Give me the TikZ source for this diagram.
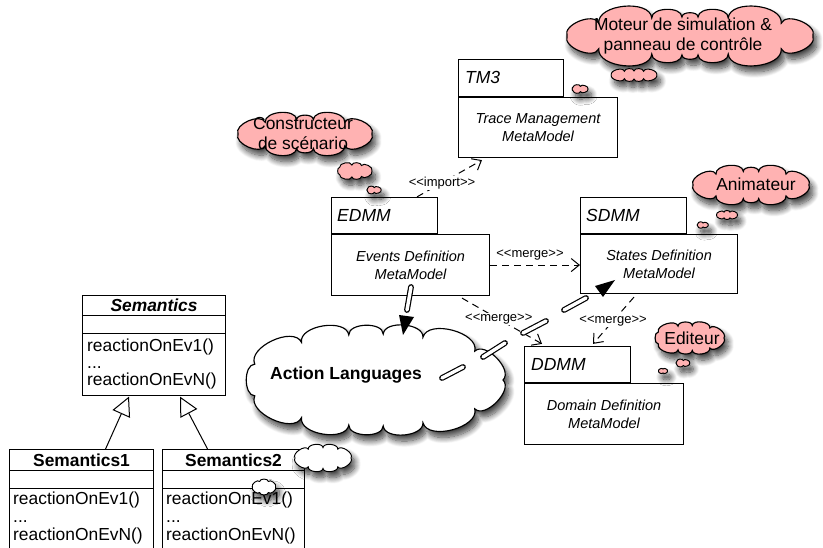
\documentclass[tikz,border=0pt]{standalone}
\usepackage{fontspec}
\setmainfont{Liberation Sans}
\usetikzlibrary{arrows.meta,shadows.blur,calc}
\definecolor{pinkc}{RGB}{255,178,178}
\newcommand{\fsz}[2]{\fontsize{#1pt}{#2pt}\selectfont}
\newcommand{\stt}[1]{<\kern0pt<#1>\kern0pt>}
\tikzset{
  box/.style={draw, line width=1.1pt, fill=white, inner sep=0pt, anchor=north west},
  tabtxt/.style={font=\fsz{17.5}{20}\itshape, anchor=west, inner sep=0pt},
  bodytxt/.style={font=\fsz{14.5}{18}\itshape, align=center, inner sep=0pt},
  cloudline/.style={draw, line width=1.15pt, line join=miter,
     blur shadow={shadow xshift=3.5pt, shadow yshift=-6pt, shadow blur radius=6pt, shadow blur steps=12, shadow opacity=75}},
  smallcloud/.style={line width=0.95pt},
  cloudtxt/.style={font=\fsz{17.4}{20}, align=center, inner sep=0pt},
  dep/.style={line width=1pt, dash pattern=on 7pt off 5pt, -{Straight Barb[length=8pt,width=13pt]}},
  stereo/.style={font=\fsz{13}{15}, fill=white, inner sep=1pt},
  dbl/.style={double=white, double distance=3.4pt, line width=1.2pt, line cap=round},
  gen/.style={line width=1pt, -{Triangle[open, fill=white, length=19pt, width=19pt]}},
  optxt/.style={font=\fsz{17.4}{20}, anchor=base west, inner sep=0pt},
  clstitle/.style={font=\fsz{17.4}{20}\bfseries, inner sep=0pt},
}
% cloud outline: [style]{cx}{cy}{a}{b}{puffs}{fill}
\newcommand{\cloudat}[7][]{%
  \pgfmathsetmacro\ck{28.6479*(#4-#5)/(#4+#5)}%
  \path[cloudline, fill=#7, #1] ({#2+#4},#3)
    \foreach \k [evaluate=\k as \ta using {360*(\k-1)/#6+\ck*sin(720*(\k-1)/#6)},
                 evaluate=\k as \tb using {360*\k/#6+\ck*sin(720*\k/#6)}] in {1,...,#6}
    { .. controls ($({#2+#4*cos(\ta)},{#3-#5*sin(\ta)})!0.36!-90:({#2+#4*cos(\tb)},{#3-#5*sin(\tb)})$)
         and ($({#2+#4*cos(\tb)},{#3-#5*sin(\tb)})!0.36!90:({#2+#4*cos(\ta)},{#3-#5*sin(\ta)})$)
         .. ({#2+#4*cos(\tb)},{#3-#5*sin(\tb)}) } -- cycle;%
}
\begin{document}
\begin{tikzpicture}[x=1pt,y=-1pt]
\useasboundingbox (0,0) rectangle (823,548);
% ---------- packages
\node[box, minimum width=159, minimum height=60] (tmB) at (458,97) {};
\node[box, minimum width=105, minimum height=37, anchor=south west] (tmT) at (tmB.north west) {};
\node[tabtxt] (tmL) at ($(tmT.west)+(7,0)$) {TM3};
\node[bodytxt] (tmD) at (tmB.center) {Trace Management\\MetaModel};
\node[box, minimum width=158, minimum height=61] (edB) at (331,234) {};
\node[box, minimum width=106, minimum height=36, anchor=south west] (edT) at (edB.north west) {};
\node[tabtxt] (edL) at ($(edT.west)+(6,0)$) {EDMM};
\node[bodytxt] (edD) at (edB.center) {Events Definition\\MetaModel};
\node[box, minimum width=157, minimum height=59] (sdB) at (580,234) {};
\node[box, minimum width=106, minimum height=36, anchor=south west] (sdT) at (sdB.north west) {};
\node[tabtxt] (sdL) at ($(sdT.west)+(6,0)$) {SDMM};
\node[bodytxt] (sdD) at (sdB.center) {States Definition\\MetaModel};
\node[box, minimum width=159, minimum height=61] (ddB) at (524,383) {};
\node[box, minimum width=106, minimum height=36, anchor=south west] (ddT) at (ddB.north west) {};
\node[tabtxt] (ddL) at ($(ddT.west)+(7,0)$) {DDMM};
\node[bodytxt] (ddD) at (ddB.center) {Domain Definition\\MetaModel};
% ---------- classes
\node[box, minimum width=143, minimum height=20] (semT) at (82,295) {};
\node[box, minimum width=143, minimum height=18] (semA) at (82,315) {};
\node[box, minimum width=143, minimum height=62] (semO) at (82,333) {};
\node[clstitle, font=\fsz{17.4}{20}\bfseries\itshape] (semN) at (semT.center) {Semantics};
\node[optxt] (so1) at (87,352) {reactionOnEv1()};
\node[optxt] (so2) at (87,368.5) {...};
\node[optxt] (so3) at (87,385) {reactionOnEvN()};
\node[box, minimum width=144, minimum height=21] (s1T) at (9,449) {};
\node[box, minimum width=144, minimum height=18] (s1A) at (9,470) {};
\node[box, minimum width=144, minimum height=70] (s1O) at (9,488) {};
\node[clstitle] (s1N) at (s1T.center) {Semantics1};
\node[optxt] (s1o1) at (13,504) {reactionOnEv1()};
\node[optxt] (s1o2) at (13,522) {...};
\node[optxt] (s1o3) at (13,540) {reactionOnEvN()};
\node[box, minimum width=142, minimum height=21] (s2T) at (162,449) {};
\node[box, minimum width=142, minimum height=18] (s2A) at (162,470) {};
\node[box, minimum width=142, minimum height=70] (s2O) at (162,488) {};
\node[clstitle] (s2N) at (s2T.center) {Semantics2};
\node[optxt] (s2o1) at (166,504) {reactionOnEv1()};
\node[optxt] (s2o2) at (166,522) {...};
\node[optxt] (s2o3) at (166,540) {reactionOnEvN()};
\draw[gen] ($(s1T.north)+(24,0)$) -- ($(semO.south west)+(47,0.5)$);
\draw[gen] ($(s2T.north)+(-26,0)$) -- ($(semO.south west)+(98,0.5)$);
% ---------- dependencies
\draw[dep] ($(edT.north west)+(86,0)$) -- ($(tmB.south west)+(24,2)$)
   node[stereo, pos=0.385] (lbl1) {\stt{import}};
\draw[dep] (edB.east) -- (edB.east -| sdB.west);
\node[stereo, fill=none] (lbl2) at (530,255) {\stt{merge}};
\draw[dep] ($(edB.south west)+(131,2)$) -- ($(ddT.north west)+(18,-2)$)
   node[stereo, pos=0.46] (lbl3) {\stt{merge}};
\draw[dep] ($(sdB.south west)+(54,3)$) -- ($(ddT.north west)+(69,-2)$)
   node[stereo, pos=0.51] (lbl4) {\stt{merge}};
% ---------- clouds
\cloudat{305}{134}{67}{14.5}{10}{pinkc}
\node[cloudtxt] (cCt) at (303,134) {Constructeur\\de scénario};
\cloudat[smallcloud]{354}{171}{18}{6}{7}{pinkc}
\cloudat[smallcloud]{373}{190}{8.2}{2.4}{5}{pinkc}
\cloudat{690}{36}{123}{19}{14}{pinkc}
\node[cloudtxt] (cMt) at (683,36) {Moteur de simulation \&\\panneau de contrôle};
\cloudat[smallcloud]{634}{75}{22.8}{4}{8}{pinkc}
\cloudat[smallcloud]{579}{89}{9}{2.7}{5}{pinkc}
\cloudat{751}{185}{58}{13.7}{10}{pinkc}
\node[cloudtxt] (cAt) at (756,184) {Animateur};
\cloudat[smallcloud]{727}{215}{10.5}{3}{6}{pinkc}
\cloudat[smallcloud]{702}{225}{6.3}{2}{5}{pinkc}
\cloudat{689}{338}{35}{12.5}{9}{pinkc}
\node[cloudtxt] (cEt) at (692,338) {Editeur};
\cloudat[smallcloud]{682}{363}{7.8}{2.5}{5}{pinkc}
\cloudat[smallcloud]{663}{371}{4.5}{2}{4}{pinkc}
\cloudat{375}{380}{128}{46}{13}{white}
\node[cloudtxt, font=\fsz{17.5}{20}\bfseries] (alt) at (346,375) {Action Languages};
\cloudat[smallcloud]{323}{458}{28}{10.4}{8}{white}
\cloudat[smallcloud]{264}{487}{11.5}{6}{6}{white}
% ---------- double-line connectors
\coordinate (d0a) at (411,287); \coordinate (d0b) at (407,310);
\draw[dbl] (d0a) -- (d0b);
\fill (399,315) -- (414,317) -- (403,335) -- cycle;
\coordinate (d1a) at (442,378); \coordinate (d1b) at (463,367);
\coordinate (d2a) at (483,357); \coordinate (d2b) at (505,343);
\coordinate (d3a) at (523,333); \coordinate (d3b) at (546,321);
\coordinate (d4a) at (564,310); \coordinate (d4b) at (586,298);
\draw[dbl] (d1a) -- (d1b);
\draw[dbl] (d2a) -- (d2b);
\draw[dbl] (d3a) -- (d3b);
\draw[dbl] (d4a) -- (d4b);
\fill (595,286) -- (615,280) -- (603,297) -- cycle;
\end{tikzpicture}
\end{document}
